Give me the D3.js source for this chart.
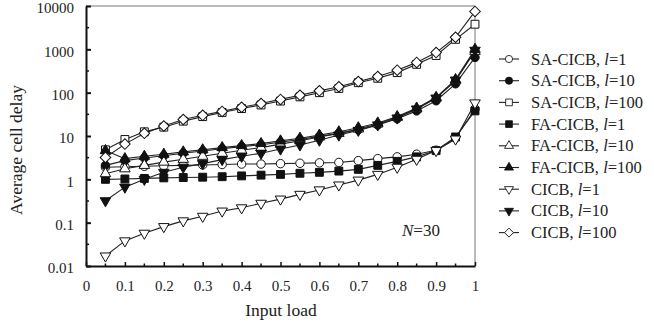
<!DOCTYPE html>
<html>
<head>
<meta charset="utf-8">
<script src="https://cdn.jsdelivr.net/npm/d3@7"></script>
<style>
html,body{margin:0;padding:0;background:#fff;}
svg{display:block;font-family:"Liberation Serif","Times New Roman",serif;}
</style>
</head>
<body>
<svg id="chart" width="654" height="328"></svg>
<script>
const loads = [0.05,0.1,0.15,0.2,0.25,0.3,0.35,0.4,0.45,0.5,0.55,0.6,0.65,0.7,0.75,0.8,0.85,0.9,0.95,1.0];
const xTicks = [0,0.1,0.2,0.3,0.4,0.5,0.6,0.7,0.8,0.9,1];
const yTicks = [0.01,0.1,1,10,100,1000,10000];

const saL1   = [1.9,1.95,2.0,2.05,2.1,2.15,2.2,2.25,2.25,2.3,2.35,2.4,2.45,2.7,3.0,3.3,3.8,4.7,9,42];
const saL10  = [2.1,2.7,3.1,3.5,4.0,4.5,5.1,5.7,6.3,7.2,8.3,9.8,11.5,14,18,25,38,65,160,650];
const saL100 = [4.8,8.3,12.5,16,22,28,35,43,52,64,80,100,125,170,215,290,450,720,1700,3800];
const faL1   = [1.0,1.02,1.05,1.08,1.1,1.12,1.15,1.2,1.25,1.3,1.38,1.45,1.55,1.7,2.1,2.6,3.3,4.6,9.5,38];
const faL10  = [1.35,1.75,2.1,2.5,2.9,3.4,4.0,4.7,5.4,6.5,7.8,9.5,11.5,14.5,19,27,42,75,190,900];
const faL100 = [4.6,3.0,3.4,3.8,4.3,4.8,5.4,6.0,6.7,7.7,8.9,10.5,12.5,15.5,20,28,44,78,200,1000];
const cL1    = [0.017,0.038,0.057,0.081,0.11,0.14,0.185,0.22,0.28,0.35,0.45,0.57,0.74,0.96,1.3,1.9,2.9,4.6,8.5,58];
const cL10   = [0.32,0.66,1.0,1.45,1.9,2.3,2.85,3.4,4.0,5.0,6.2,8.0,10.5,13.5,18,26,42,75,195,950];
const cL100  = [3.2,6.5,11.5,17,24,30,37,46,56,70,87,110,137,180,235,330,500,840,1900,7500];

const seriesNames = ["SA-CICB","SA-CICB","SA-CICB","FA-CICB","FA-CICB","FA-CICB","CICB","CICB","CICB"];
const seriesL = ["1","10","100","1","10","100","1","10","100"];
const seriesVals = [saL1,saL10,saL100,faL1,faL10,faL100,cL1,cL10,cL100];
const seriesMarker = ["circle","circle","square","square","triangle","triangle","down","down","diamond"];
const seriesFilled = [false,true,false,true,false,true,false,true,false];

const svg = d3.select("#chart");
const L = 86, R = 475, T = 6, B = 266;
const x = d3.scaleLinear().domain([0,1]).range([L,R]);
const y = d3.scaleLog().domain([0.01,10000]).range([B,T]);

function markerPath(type){
  const s = d3.symbol();
  if(type==="circle") return s.type(d3.symbolCircle).size(56)();
  if(type==="square") return s.type(d3.symbolSquare).size(62)();
  if(type==="triangle") return s.type(d3.symbolTriangle).size(48)();
  if(type==="down") return s.type(d3.symbolTriangle).size(48)();
  if(type==="diamond") return s.type(d3.symbolSquare).size(56)();
}
function markerRot(type){
  if(type==="down") return 180;
  if(type==="diamond") return 45;
  return 0;
}

// frame (top & right)
svg.append("line").attr("x1",L).attr("x2",R).attr("y1",T).attr("y2",T).attr("stroke","#777").attr("stroke-width",1);
svg.append("line").attr("x1",R).attr("x2",R).attr("y1",T).attr("y2",B).attr("stroke","#777").attr("stroke-width",1);

// y axis
const yAxis = d3.axisLeft(y).tickValues(yTicks).tickFormat(d=>String(d)).tickSizeInner(-5).tickSizeOuter(0).tickPadding(12);
const gy = svg.append("g").attr("transform",`translate(${L},0)`).call(yAxis);
gy.select(".domain").attr("stroke","#111").attr("stroke-width",2);
gy.selectAll(".tick line").attr("stroke","#111").attr("stroke-width",2);
gy.selectAll(".tick text").attr("font-size",15).attr("fill","#222").attr("font-family","Liberation Serif").attr("dy","0.45em");
// minor y ticks at half decades
const yMinor = yTicks.slice(0,-1).map(v=>v*Math.sqrt(10));
svg.append("g").selectAll("line").data(yMinor).join("line")
  .attr("x1",L).attr("x2",L+3).attr("y1",d=>y(d)).attr("y2",d=>y(d)).attr("stroke","#111").attr("stroke-width",1.5);

// x axis
const xAxis = d3.axisBottom(x).tickValues(xTicks).tickFormat(d=>String(d)).tickSizeInner(-4).tickSizeOuter(0).tickPadding(14);
const gx = svg.append("g").attr("transform",`translate(0,${B})`).call(xAxis);
gx.select(".domain").attr("stroke","#111").attr("stroke-width",2);
gx.selectAll(".tick line").attr("stroke","#111").attr("stroke-width",1.5);
gx.selectAll(".tick text").attr("font-size",15).attr("fill","#222").attr("font-family","Liberation Serif");
const xMinor = xTicks.slice(0,-1).map(v=>v+0.05);
svg.append("g").selectAll("line").data(xMinor).join("line")
  .attr("x1",d=>x(d)).attr("x2",d=>x(d)).attr("y1",B).attr("y2",B-2.5).attr("stroke","#111").attr("stroke-width",1.5);

// axis titles
svg.append("text").attr("x",281).attr("y",316).attr("text-anchor","middle").attr("font-size",17.5).attr("fill","#222").text("Input load");
svg.append("text").attr("transform","translate(22,150) rotate(-90)").attr("text-anchor","middle").attr("font-size",17.5).attr("fill","#222").text("Average cell delay");

// N=30
const nt = svg.append("text").attr("x",402).attr("y",236).attr("font-size",17).attr("fill","#222");
nt.append("tspan").attr("font-style","italic").text("N");
nt.append("tspan").text("=30");

// series
const line = d3.line().x((d,i)=>x(loads[i])).y(d=>y(d));
const plot = svg.append("g");
seriesVals.forEach((vals,k)=>{
  plot.append("path").attr("d",line(vals)).attr("fill","none").attr("stroke","#222").attr("stroke-width",1.1);
});
seriesVals.forEach((vals,k)=>{
  plot.append("g").selectAll("path").data(vals).join("path")
    .attr("d",markerPath(seriesMarker[k]))
    .attr("transform",(d,i)=>`translate(${x(loads[i])},${y(d)}) rotate(${markerRot(seriesMarker[k])})`)
    .attr("fill",seriesFilled[k]?"#111":"#fff")
    .attr("stroke","#111").attr("stroke-width",1);
});

// legend
const lgX = 499, lgY0 = 59, lgDy = 21.7;
const lg = svg.append("g");
seriesNames.forEach((nm,k)=>{
  const yy = lgY0 + k*lgDy;
  lg.append("line").attr("x1",lgX).attr("x2",lgX+20).attr("y1",yy).attr("y2",yy).attr("stroke","#222").attr("stroke-width",1.1);
  lg.append("path").attr("d",markerPath(seriesMarker[k]))
    .attr("transform",`translate(${lgX+10},${yy}) rotate(${markerRot(seriesMarker[k])}) scale(0.85)`)
    .attr("fill",seriesFilled[k]?"#111":"#fff").attr("stroke","#111").attr("stroke-width",1);
  const t = lg.append("text").attr("x",lgX+32).attr("y",yy+5.5).attr("font-size",16.5).attr("fill","#222");
  t.append("tspan").text(nm+", ");
  t.append("tspan").attr("font-style","italic").text("l");
  t.append("tspan").text("="+seriesL[k]);
});
</script>
</body>
</html>
